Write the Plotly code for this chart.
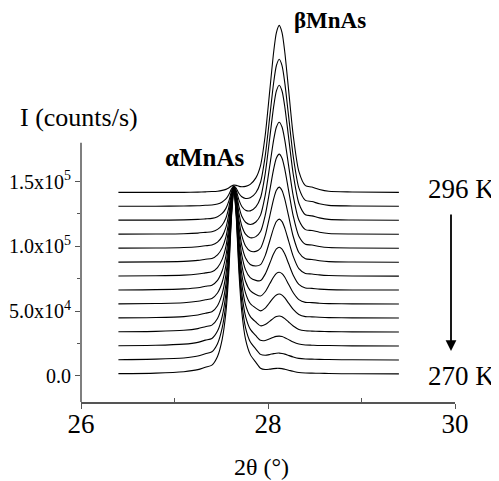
import plotly.graph_objects as go

# 2-theta sampling positions (degrees)
two_theta = [26.40, 26.80, 27.10, 27.25, 27.33, 27.40, 27.46, 27.51, 27.55, 27.58,
             27.61, 27.635, 27.66, 27.69, 27.72, 27.76, 27.81, 27.87, 27.92, 27.97,
             28.02, 28.06, 28.09, 28.12, 28.15, 28.18, 28.22, 28.27, 28.33, 28.40,
             28.47, 28.55, 28.65, 28.90, 29.40]

temperatures = [296, 294, 292, 290, 288, 286, 284, 282, 280, 278, 276, 274, 272, 270]

# intensities in units of 100 counts/s
I_296K = [13, 13, 13, 15, 17, 19, 22, 28, 36, 47, 62, 70, 67, 59, 56, 59, 75, 125, 220, 452, 807, 1094, 1248, 1303, 1248, 1094, 807, 452, 175, 65, 54, 35, 21, 16, 13]
I_294K = [13, 14, 15, 18, 21, 23, 31, 47, 70, 102, 148, 172, 153, 112, 87, 74, 79, 118, 199, 401, 713, 966, 1101, 1149, 1100, 965, 712, 400, 156, 59, 50, 33, 20, 16, 13]
I_292K = [14, 14, 16, 20, 24, 28, 41, 66, 105, 159, 238, 278, 243, 169, 120, 91, 86, 117, 187, 372, 657, 889, 1013, 1057, 1012, 888, 656, 369, 145, 56, 47, 32, 20, 15, 13]
I_290K = [14, 15, 17, 22, 28, 33, 51, 85, 139, 217, 329, 384, 333, 224, 152, 106, 89, 108, 161, 313, 548, 740, 842, 879, 842, 739, 546, 309, 123, 49, 42, 29, 19, 15, 13]
I_288K = [14, 15, 19, 25, 32, 38, 60, 105, 174, 274, 420, 490, 422, 280, 185, 122, 94, 103, 142, 267, 464, 624, 710, 740, 709, 623, 461, 262, 106, 44, 38, 27, 19, 15, 13]
I_286K = [14, 16, 20, 27, 36, 42, 70, 124, 209, 331, 510, 596, 512, 336, 218, 138, 99, 97, 121, 218, 374, 501, 569, 593, 568, 499, 371, 212, 88, 39, 34, 25, 18, 15, 13]
I_284K = [15, 16, 21, 30, 39, 47, 80, 143, 244, 388, 600, 702, 602, 392, 250, 154, 104, 92, 102, 172, 289, 385, 436, 454, 435, 383, 286, 166, 71, 34, 30, 23, 18, 15, 14]
I_282K = [15, 17, 23, 32, 43, 52, 89, 163, 279, 446, 691, 808, 692, 449, 284, 170, 110, 89, 87, 137, 223, 294, 332, 345, 331, 292, 219, 129, 58, 30, 27, 21, 17, 15, 14]
I_280K = [15, 18, 24, 35, 47, 57, 99, 182, 314, 503, 781, 914, 782, 505, 317, 188, 118, 88, 76, 109, 172, 223, 251, 260, 249, 221, 167, 101, 48, 27, 25, 20, 17, 15, 14]
I_278K = [15, 18, 25, 37, 51, 62, 109, 202, 349, 560, 871, 1020, 872, 562, 352, 206, 126, 90, 69, 90, 135, 172, 192, 199, 191, 169, 129, 80, 41, 25, 23, 20, 17, 15, 14]
I_276K = [16, 19, 27, 40, 55, 67, 119, 222, 384, 618, 962, 1126, 962, 619, 386, 224, 135, 91, 62, 71, 98, 121, 133, 137, 132, 117, 91, 60, 34, 23, 21, 19, 17, 15, 14]
I_274K = [16, 19, 28, 42, 59, 72, 129, 241, 419, 675, 1051, 1232, 1052, 676, 420, 243, 144, 93, 58, 56, 69, 82, 88, 90, 87, 78, 63, 44, 29, 22, 20, 18, 17, 15, 14]
I_272K = [16, 20, 29, 44, 62, 77, 139, 261, 454, 733, 1142, 1338, 1142, 733, 455, 262, 154, 98, 57, 50, 56, 63, 66, 67, 64, 59, 49, 37, 26, 21, 20, 18, 17, 15, 14]
I_270K = [16, 20, 31, 47, 66, 82, 149, 281, 490, 790, 1232, 1444, 1233, 790, 490, 281, 165, 103, 58, 48, 51, 55, 57, 57, 55, 50, 43, 34, 25, 21, 20, 19, 17, 15, 14]

curves = [I_296K, I_294K, I_292K, I_290K, I_288K, I_286K, I_284K,
          I_282K, I_280K, I_278K, I_276K, I_274K, I_272K, I_270K]

stack_offset = 10800  # counts/s between successive scans

y_tickvals = [0, 50000, 100000, 150000]
y_ticktext = ["0.0", "5.0x10<sup>4</sup>", "1.0x10<sup>5</sup>", "1.5x10<sup>5</sup>"]
x_tickvals = [26, 28, 30]
x_ticktext = ["26", "28", "30"]

FONT = "Liberation Serif"
AXC = "#555555"

fig = go.Figure()
n = len(curves)
for i, (T, vals) in enumerate(zip(temperatures, curves)):
    k = n - 1 - i
    fig.add_trace(go.Scatter(
        x=two_theta,
        y=[v * 100 + k * stack_offset for v in vals],
        mode="lines",
        line=dict(color="black", width=1.1, shape="spline", smoothing=0.7),
        name=f"{T} K",
        showlegend=False,
        hoverinfo="skip",
    ))

# the page body adds an 8 px margin, so the figure is 8 px smaller on each axis
fig.update_layout(
    width=491, height=473,
    margin=dict(l=73, r=44, t=2, b=79),
    paper_bgcolor="white", plot_bgcolor="white",
    font=dict(family=FONT, color="black"),
    xaxis=dict(
        range=[26, 30], tickvals=x_tickvals, ticktext=x_ticktext,
        showline=True, linecolor=AXC, linewidth=1.5,
        ticks="outside", ticklen=5, tickwidth=1.2, tickcolor=AXC,
        minor=dict(tickmode="array", tickvals=[27, 29], ticks="inside",
                   ticklen=4, tickwidth=1.2, tickcolor=AXC),
        tickfont=dict(size=27, family=FONT, color="black"),
        ticklabelstandoff=-8,
        showgrid=False, zeroline=False, fixedrange=True,
    ),
    yaxis=dict(
        range=[-20300, 282600], tickvals=y_tickvals, ticktext=y_ticktext,
        showline=False,
        ticks="outside", ticklen=5, tickwidth=1.2, tickcolor=AXC,
        minor=dict(tickmode="array", tickvals=[25000, 75000, 125000],
                   ticks="outside", ticklen=3, tickwidth=1.2, tickcolor=AXC),
        tickfont=dict(size=20, family=FONT, color="black"),
        showgrid=False, zeroline=False, fixedrange=True,
    ),
    shapes=[dict(type="line", xref="paper", yref="y", x0=0, x1=0,
                 y0=-20300, y1=180000, line=dict(color=AXC, width=1.5))],
)

def px_x(p):
    return (p - 81) / 374.0

def px_y(p):
    return (402 - p) / 392.0

ann = [
    dict(text="I (counts/s)", x=px_x(79), y=px_y(117), size=26),
    dict(text="<b>αMnAs</b>", x=px_x(205), y=px_y(157), size=25),
    dict(text="<b>βMnAs</b>", x=px_x(330), y=px_y(21), size=23),
    dict(text="296 K", x=px_x(461), y=px_y(189), size=27),
    dict(text="270 K", x=px_x(461), y=px_y(376), size=27),
    dict(text="2θ (°)", x=px_x(261), y=px_y(467), size=24),
]
for a in ann:
    fig.add_annotation(text=a["text"], xref="paper", yref="paper",
                       x=a["x"], y=a["y"], xanchor="center", yanchor="middle",
                       showarrow=False, font=dict(family=FONT, size=a["size"], color="black"))

# temperature arrow
fig.add_annotation(x=px_x(451), y=px_y(351), xref="paper", yref="paper",
                   ax=0, ay=-138, axref="pixel", ayref="pixel",
                   text="", showarrow=True, arrowhead=2, arrowsize=1.2,
                   arrowwidth=1.8, arrowcolor="black")

fig.write_html("out.html")
